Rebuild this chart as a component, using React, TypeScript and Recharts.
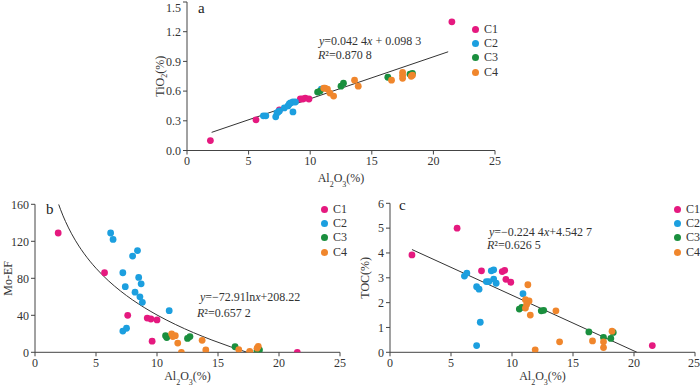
import React from 'react';
import { ScatterChart, Scatter, XAxis, YAxis } from 'recharts';

const SERIES = ['C1', 'C2', 'C3', 'C4'];
const COLORS = ['#e5197f', '#1c9fdf', '#1a8f3e', '#f0862c'];
const X_TICKS = [0, 5, 10, 15, 20, 25];

// panel a: TiO2 vs Al2O3
const aC1 = [
  { x: 1.9, y: 0.1 }, { x: 5.6, y: 0.31 }, { x: 7.5, y: 0.41 }, { x: 9.2, y: 0.52 },
  { x: 9.4, y: 0.52 }, { x: 9.6, y: 0.53 }, { x: 9.9, y: 0.52 }, { x: 21.5, y: 1.3 },
];
const aC2 = [
  { x: 6.2, y: 0.35 }, { x: 6.4, y: 0.35 }, { x: 7.2, y: 0.34 }, { x: 7.3, y: 0.38 },
  { x: 7.4, y: 0.39 }, { x: 7.5, y: 0.4 }, { x: 7.9, y: 0.43 }, { x: 8.2, y: 0.45 },
  { x: 8.3, y: 0.47 }, { x: 8.4, y: 0.48 }, { x: 8.6, y: 0.49 }, { x: 8.8, y: 0.49 },
  { x: 8.6, y: 0.39 }, { x: 10.9, y: 0.62 },
];
const aC3 = [
  { x: 10.6, y: 0.59 }, { x: 10.8, y: 0.6 }, { x: 12.5, y: 0.65 }, { x: 12.7, y: 0.68 },
  { x: 16.3, y: 0.74 }, { x: 18.1, y: 0.77 }, { x: 18.3, y: 0.78 },
];
const aC4 = [
  { x: 11.1, y: 0.63 }, { x: 11.2, y: 0.63 }, { x: 11.4, y: 0.62 }, { x: 11.6, y: 0.58 },
  { x: 11.9, y: 0.55 }, { x: 13.6, y: 0.71 }, { x: 13.9, y: 0.65 }, { x: 16.6, y: 0.71 },
  { x: 17.5, y: 0.79 }, { x: 17.5, y: 0.76 }, { x: 17.5, y: 0.73 }, { x: 18.3, y: 0.76 },
  { x: 18.2, y: 0.75 },
];

// panel b: Mo-EF vs Al2O3
const bC1 = [
  { x: 1.9, y: 129 }, { x: 5.7, y: 86 }, { x: 7.6, y: 40 }, { x: 9.2, y: 37 },
  { x: 9.5, y: 36 }, { x: 10.0, y: 35 }, { x: 9.6, y: 12 }, { x: 21.5, y: 0 },
];
const bC2 = [
  { x: 6.2, y: 129 }, { x: 6.4, y: 122 }, { x: 7.2, y: 86 }, { x: 7.4, y: 71 },
  { x: 7.2, y: 23 }, { x: 7.5, y: 26 }, { x: 8.0, y: 104 }, { x: 8.4, y: 110 },
  { x: 8.2, y: 65 }, { x: 8.5, y: 81 }, { x: 8.6, y: 60 }, { x: 8.7, y: 74 },
  { x: 8.8, y: 54 }, { x: 11.0, y: 45 },
];
const bC3 = [
  { x: 10.7, y: 18 }, { x: 10.8, y: 16 }, { x: 12.5, y: 15 }, { x: 12.7, y: 17 },
  { x: 16.4, y: 6 }, { x: 18.2, y: 2 }, { x: 18.4, y: 2.5 },
];
const bC4 = [
  { x: 11.2, y: 20 }, { x: 11.3, y: 17 }, { x: 11.5, y: 18 }, { x: 11.7, y: 10 },
  { x: 12.0, y: 0 }, { x: 13.7, y: 13 }, { x: 14.0, y: 2.5 }, { x: 16.7, y: 3 },
  { x: 17.6, y: 1 }, { x: 17.6, y: 0 }, { x: 18.3, y: 6.5 }, { x: 18.2, y: 4.5 },
];

// panel c: TOC vs Al2O3
const cC1 = [
  { x: 1.8, y: 3.92 }, { x: 5.5, y: 5.0 }, { x: 7.5, y: 3.28 }, { x: 9.2, y: 3.25 },
  { x: 9.4, y: 3.3 }, { x: 9.5, y: 2.94 }, { x: 9.9, y: 2.82 }, { x: 21.5, y: 0.27 },
];
const cC2 = [
  { x: 6.1, y: 3.07 }, { x: 6.3, y: 3.19 }, { x: 7.1, y: 2.64 }, { x: 7.3, y: 2.54 },
  { x: 7.1, y: 0.27 }, { x: 7.4, y: 1.21 }, { x: 7.9, y: 2.85 }, { x: 8.1, y: 2.85 },
  { x: 8.3, y: 3.28 }, { x: 8.5, y: 3.32 }, { x: 8.5, y: 2.95 }, { x: 8.7, y: 2.78 },
  { x: 10.9, y: 2.36 },
];
const cC3 = [
  { x: 10.6, y: 1.74 }, { x: 10.8, y: 1.81 }, { x: 12.4, y: 1.67 }, { x: 12.6, y: 1.69 },
  { x: 16.3, y: 0.82 }, { x: 17.5, y: 0.6 }, { x: 18.1, y: 0.56 }, { x: 18.3, y: 0.8 },
];
const cC4 = [
  { x: 11.3, y: 2.72 }, { x: 11.1, y: 2.12 }, { x: 11.4, y: 2.07 }, { x: 11.2, y: 1.92 },
  { x: 11.1, y: 1.78 }, { x: 11.5, y: 1.5 }, { x: 11.9, y: 0.1 }, { x: 13.6, y: 1.67 },
  { x: 13.9, y: 0.42 }, { x: 16.6, y: 0.46 }, { x: 17.5, y: 0.42 }, { x: 17.5, y: 0.19 },
  { x: 18.2, y: 0.85 },
];

// fitted trend lines, from the equations printed on the chart
const fitAX = [2.0, 21.2];
const fitBX = [1.937, 2.1, 2.3, 2.5, 2.75, 3, 3.3, 3.6, 4, 4.5, 5, 5.5, 6, 7, 8, 9, 10, 11.5, 13, 14.5, 16, 17.39];
const fitCX = [1.8, 20.24];
const fitA = fitAX.map(x => ({ x, y: 0.0424 * x + 0.0983 }));
const fitB = fitBX.map(x => ({ x, y: -72.91 * Math.log(x) + 208.22 }));
const fitC = fitCX.map(x => ({ x, y: -0.2244 * x + 4.5427 }));

const AXIS = '#444';
const TICK = { fontSize: 12, fill: '#333' };

const Dot = (props: any) => <circle cx={props.cx} cy={props.cy} r={3.4} fill={props.fill} />;
const NoDot = () => <g />;

const XTitle = (props: any) => {
  const { viewBox, dy } = props;
  return (
    <text x={viewBox.x + viewBox.width / 2} y={viewBox.y + dy} textAnchor="middle" fontSize={12} fill="#333">
      Al<tspan baselineShift="sub" fontSize={8}>2</tspan>O<tspan baselineShift="sub" fontSize={8}>3</tspan>(%)
    </text>
  );
};

const YTitle = (props: any) => {
  const { viewBox, dx, sub } = props;
  const cx = viewBox.x + dx;
  const cy = viewBox.y + viewBox.height / 2;
  return (
    <text transform={`translate(${cx},${cy}) rotate(-90)`} textAnchor="middle" dominantBaseline="central" fontSize={12} fill="#333">
      {sub ? <>TiO<tspan baselineShift="sub" fontSize={8}>2</tspan>(%)</> : props.text}
    </text>
  );
};

function Panel(p: any) {
  return (
    <div style={{ position: 'absolute', left: p.left, top: p.top }}>
      <ScatterChart width={p.width} height={p.height} margin={p.margin}>
        <XAxis type="number" dataKey="x" domain={[0, 25]} ticks={X_TICKS} allowDataOverflow
          stroke={AXIS} tick={TICK} tickSize={4} height={30}
          label={<XTitle dy={p.xDy} />} />
        <YAxis type="number" dataKey="y" domain={p.yDomain} ticks={p.yTicks} allowDataOverflow
          stroke={AXIS} tick={TICK} tickSize={4} width={p.yWidth} tickFormatter={p.yFmt}
          label={<YTitle dx={p.yDx} sub={p.ySub} text={p.yText} />} />
        <Scatter data={p.fit} line={{ stroke: '#333', strokeWidth: 1 }} lineType="joint"
          lineJointType="monotoneX" shape={NoDot} isAnimationActive={false} />
        {p.series.map((d: any, i: number) => (
          <Scatter key={SERIES[i]} name={SERIES[i]} data={d} fill={COLORS[i]} shape={Dot} isAnimationActive={false} />
        ))}
      </ScatterChart>
    </div>
  );
}

const Legend = ({ left, top }: { left: number; top: number }) => (
  <div style={{ position: 'absolute', left, top }}>
    {SERIES.map((s, i) => (
      <div key={s} style={{ display: 'flex', alignItems: 'center', height: 14.3, fontSize: 12, color: '#333' }}>
        <span style={{ width: 7, height: 7, borderRadius: '50%', background: COLORS[i], marginRight: 5 }} />
        {s}
      </div>
    ))}
  </div>
);

const Note = ({ left, top, children }: any) => (
  <div style={{ position: 'absolute', left, top, fontSize: 12, lineHeight: '14px', color: '#333', whiteSpace: 'nowrap' }}>
    {children}
  </div>
);

const Letter = ({ left, top, children }: any) => (
  <div style={{ position: 'absolute', left, top, fontSize: 15, lineHeight: '16px', color: '#222' }}>{children}</div>
);

export default function App() {
  return (
    <div style={{ position: 'absolute', left: 0, top: 0, width: 700, height: 385, background: '#fff', overflow: 'hidden', fontFamily: '"Liberation Serif", "Times New Roman", serif' }}>
      <Panel left={130} top={0} width={380} height={190} margin={{ top: 2, right: 15, bottom: 9.5, left: 0 }}
        yWidth={57} yDomain={[0, 1.5]} yTicks={[0, 0.3, 0.6, 0.9, 1.2, 1.5]} yFmt={(v: number) => v.toFixed(1)}
        yDx={30} ySub xDy={31.5} fit={fitA} series={[aC1, aC2, aC3, aC4]} />
      <Panel left={0} top={190} width={350} height={195} margin={{ top: 14.3, right: 10, bottom: 2.7, left: 0 }}
        yWidth={35} yDomain={[0, 160]} yTicks={[0, 40, 80, 120, 160]}
        yDx={8} yText="Mo-EF" xDy={27.5} fit={fitB} series={[bC1, bC2, bC3, bC4]} />
      <Panel left={350} top={190} width={350} height={195} margin={{ top: 13.3, right: 5, bottom: 2.7, left: 0 }}
        yWidth={40} yDomain={[0, 6]} yTicks={[0, 1, 2, 3, 4, 5, 6]}
        yDx={15} yText="TOC(%)" xDy={27.5} fit={fitC} series={[cC1, cC2, cC3, cC4]} />

      <Letter left={198} top={0}>a</Letter>
      <Letter left={46} top={201}>b</Letter>
      <Letter left={399} top={197}>c</Letter>

      <Legend left={472} top={22} />
      <Legend left={321} top={202} />
      <Legend left={674} top={202} />

      <Note left={319} top={34}><i>y</i>=0.042 4<i>x</i> + 0.098 3</Note>
      <Note left={318} top={48}><i>R</i>²=0.870 8</Note>
      <Note left={200} top={290}><i>y</i>=−72.91ln<i>x</i>+208.22</Note>
      <Note left={197} top={306}><i>R</i>²=0.657 2</Note>
      <Note left={489} top={225}><i>y</i>=−0.224 4<i>x</i>+4.542 7</Note>
      <Note left={487} top={238}><i>R</i>²=0.626 5</Note>
    </div>
  );
}
